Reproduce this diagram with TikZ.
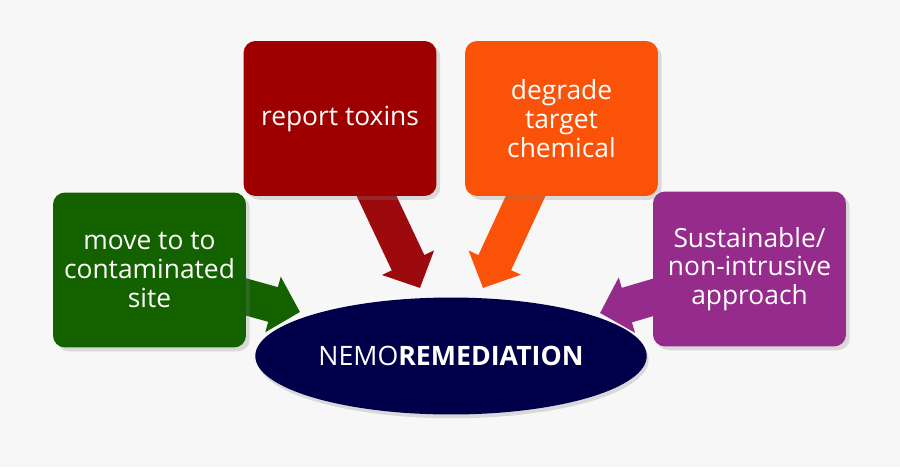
\documentclass[tikz,border=0pt]{standalone}
\usepackage{fontspec}
\setmainfont{Open Sans}
\usepackage{tikz}
\usetikzlibrary{shadows,arrows.meta,shapes,positioning,backgrounds}
\definecolor{bggray}{HTML}{F7F7F7}
\definecolor{siteGreen}{HTML}{146100}
\definecolor{toxinRed}{HTML}{9E0000}
\definecolor{toxinArrow}{HTML}{9C0A0E}
\definecolor{chemOrange}{HTML}{FA5208}
\definecolor{approachPurple}{HTML}{952B8A}
\definecolor{nemoNavy}{HTML}{00004A}
\tikzset{
  taskbox/.style={rectangle, rounded corners=0.24cm, minimum width=3.86cm, minimum height=3.1cm,
    align=center, text=white, font=\fontsize{15}{16.3}\selectfont,
    drop shadow={shadow xshift=0.4ex, shadow yshift=-0.4ex, opacity=0.25}},
  blockarrow/.style={line width=0.72cm, -{Triangle[width=1.12cm, length=0.56cm]}}
}

\begin{document}
\begin{tikzpicture}[x=0.02cm, y=-0.02cm]
        % Boxes around the centre
        \node[taskbox, fill=siteGreen] (site) at (149.5,270) {move to to\\contaminated\\site};
        \node[taskbox, fill=toxinRed] (toxins) at (340,118.5) {report toxins};
        \node[taskbox, fill=chemOrange] (degrade) at (561.5,118.5) {degrade\\target\\chemical};
        \node[taskbox, fill=approachPurple] (approach) at (749.5,269) {Sustainable/\\non-intrusive\\approach};

        % Centre ellipse
        \node[ellipse, fill=nemoNavy, minimum width=7.8cm, minimum height=2.34cm, text=white,
          font=\fontsize{15.2}{18}\selectfont,
          drop shadow={shadow xshift=0.2ex, shadow yshift=-0.4ex, opacity=0.25}] (nemo) at (451,356) {NEMO\textbf{REMEDIATION}};

        % Arrow tips on the ellipse
        \coordinate (siteTip) at (300,312);
        \coordinate (toxinsTip) at (420,288);
        \coordinate (degradeTip) at (483,288);
        \coordinate (approachTip) at (600,313);

        \begin{pgfonlayer}{background}
        \fill[bggray] (0,0) rectangle (900,467);
        % Block arrows into the ellipse
        \draw[blockarrow, siteGreen] (site.center) -- (siteTip);
        \draw[blockarrow, toxinArrow] (toxins.center) -- (toxinsTip);
        \draw[blockarrow, chemOrange] (degrade.center) -- (degradeTip);
        \draw[blockarrow, approachPurple] (approach.center) -- (approachTip);
        \end{pgfonlayer}
        \useasboundingbox (0,0) rectangle (900,467);
    \end{tikzpicture}
\end{document}
